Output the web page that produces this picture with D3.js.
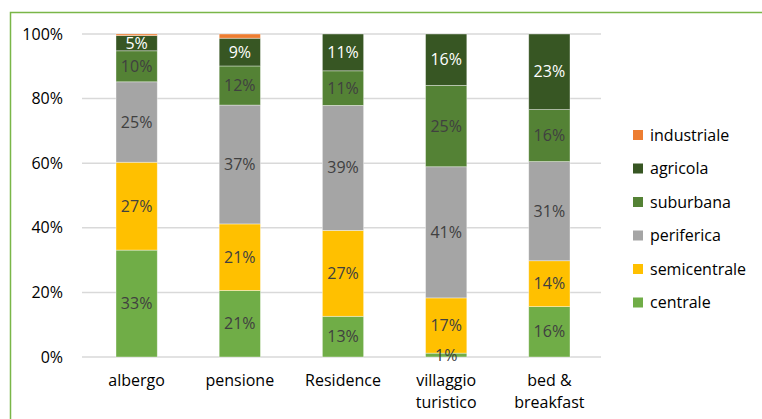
<!DOCTYPE html>
<html>
<head>
<meta charset="utf-8">
<script src="https://cdn.jsdelivr.net/npm/d3@7"></script>
<style>
  html, body { margin: 0; padding: 0; background: #fff; }
  svg { display: block; font-family: "Open Sans", Lato, sans-serif; }
</style>
</head>
<body>
<svg id="chart" width="762" height="419"></svg>
<script>
// ---- data ----
const categories = ["albergo", "pensione", "Residence", "villaggio turistico", "bed & breakfast"];
const seriesNames = ["centrale", "semicentrale", "periferica", "suburbana", "agricola", "industriale"];
const centrale     = [33.1, 20.6, 12.6,  1.2, 15.6];
const semicentrale = [27.2, 20.6, 26.6, 17.1, 14.2];
const periferica   = [24.9, 36.8, 38.7, 40.6, 30.7];
const suburbana    = [ 9.6, 12.1, 10.7, 25.2, 16.1];
const agricola     = [ 4.7,  8.6, 11.4, 15.9, 23.4];
const industriale  = [ 0.5,  1.3,  0.0,  0.0,  0.0];
const yTicks = [0, 20, 40, 60, 80, 100];

const seriesValues = { centrale, semicentrale, periferica, suburbana, agricola, industriale };
const colors = {
  centrale: "#70AD47", semicentrale: "#FFC000", periferica: "#A5A5A5",
  suburbana: "#548235", agricola: "#375623", industriale: "#ED7D31"
};
const labelColors = {
  centrale: "#404040", semicentrale: "#404040", periferica: "#404040",
  suburbana: "#404040", agricola: "#ffffff", industriale: "#404040"
};

const table = categories.map((c, i) => {
  const row = { cat: c };
  seriesNames.forEach(s => row[s] = seriesValues[s][i]);
  return row;
});

const svg = d3.select("#chart");
const FS = 16;

// border
svg.append("rect").attr("x", 10.5).attr("y", 12.5).attr("width", 760).attr("height", 420)
  .attr("fill", "none").attr("stroke", "#7AB648").attr("stroke-width", 1.5);

const plotLeft = 82, plotRight = 601, plotTop = 34, plotBottom = 357;
const x = d3.scaleBand().domain(categories).range([116, 570]).paddingInner(0.6).paddingOuter(0);
const y = d3.scaleLinear().domain([0, 100]).range([plotBottom, plotTop]);

// gridlines
svg.append("g").selectAll("line").data(yTicks).join("line")
  .attr("x1", plotLeft).attr("x2", plotRight)
  .attr("y1", d => y(d)).attr("y2", d => y(d))
  .attr("stroke", "#D9D9D9").attr("stroke-width", 1.5);

// y axis labels
const yAxis = svg.append("g").attr("transform", `translate(${plotLeft - 16},0)`)
  .call(d3.axisLeft(y).tickValues(yTicks).tickFormat(d => d + "%").tickSize(0));
yAxis.select(".domain").remove();
yAxis.selectAll("text").attr("font-size", FS).attr("fill", "#000").attr("font-family", "'Open Sans', sans-serif");

// stacks
const stack = d3.stack().keys(seriesNames);
const layers = stack(table);

const g = svg.append("g");
layers.forEach(layer => {
  const key = layer.key;
  g.append("g").selectAll("rect").data(layer).join("rect")
    .attr("x", d => x(d.data.cat))
    .attr("width", x.bandwidth())
    .attr("y", d => y(d[1]))
    .attr("height", d => Math.max(0, y(d[0]) - y(d[1])))
    .attr("fill", colors[key])
    .attr("stroke", "#ffffff").attr("stroke-opacity", 0.5).attr("stroke-width", 0.75);
});

// labels
layers.forEach(layer => {
  const key = layer.key;
  if (key === "industriale") return;
  g.append("g").selectAll("text").data(layer.filter(d => d[1] - d[0] > 0)).join("text")
    .attr("x", d => x(d.data.cat) + x.bandwidth() / 2)
    .attr("y", d => y((d[0] + d[1]) / 2))
    .attr("dy", "0.35em")
    .attr("text-anchor", "middle")
    .attr("font-size", FS)
    .attr("fill", labelColors[key])
    .text(d => Math.round(d[1] - d[0]) + "%");
});

// x axis labels
const xLabelLines = {
  "villaggio turistico": ["villaggio", "turistico"],
  "bed & breakfast": ["bed &", "breakfast"]
};
const xl = svg.append("g");
categories.forEach(c => {
  const lines = xLabelLines[c] || [c];
  const t = xl.append("text")
    .attr("x", x(c) + x.bandwidth() / 2)
    .attr("y", 386)
    .attr("text-anchor", "middle")
    .attr("font-size", FS)
    .attr("fill", "#000");
  lines.forEach((ln, i) => {
    t.append("tspan").attr("x", x(c) + x.bandwidth() / 2).attr("dy", i === 0 ? 0 : 21.5).text(ln);
  });
});

// legend
const legendOrder = seriesNames.slice().reverse();
const lg = svg.append("g").attr("transform", "translate(633,135)");
legendOrder.forEach((s, i) => {
  const row = lg.append("g").attr("transform", `translate(0,${i * 33.5})`);
  row.append("rect").attr("x", 0).attr("y", -5).attr("width", 10).attr("height", 10).attr("fill", colors[s]);
  row.append("text").attr("x", 17).attr("y", 0).attr("dy", "0.35em")
    .attr("font-size", FS).attr("fill", "#000").text(s);
});
</script>
</body>
</html>
